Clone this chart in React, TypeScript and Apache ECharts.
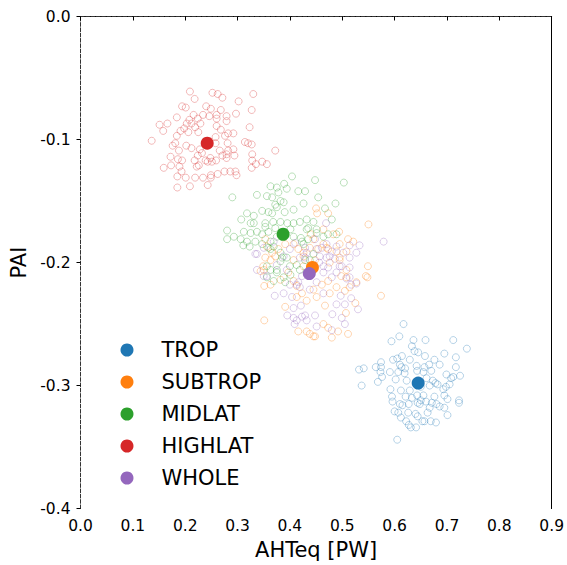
import React, { useEffect, useRef } from "react";
import * as echarts from "echarts";

const regionNames = ["TROP", "SUBTROP", "MIDLAT", "HIGHLAT", "WHOLE"];
const regionColors = ["#1f77b4", "#ff7f0e", "#2ca02c", "#d62728", "#9467bd"];
const regionCloudColors = [
  "rgba(31,119,180,0.4)",
  "rgba(255,127,14,0.4)",
  "rgba(44,160,44,0.4)",
  "rgba(214,39,40,0.4)",
  "rgba(148,103,189,0.4)",
];

const xTicks = [0, 0.1, 0.2, 0.3, 0.4, 0.5, 0.6, 0.7, 0.8, 0.9];
const yTicks = [-0.4, -0.3, -0.2, -0.1, 0.0];

// mean values (AHTeq, PAI)
const tropMean: [number, number] = [0.645, -0.298];
const subtropMean: [number, number] = [0.443, -0.204];
const midlatMean: [number, number] = [0.387, -0.177];
const highlatMean: [number, number] = [0.242, -0.103];
const wholeMean: [number, number] = [0.437, -0.209];

const tropPoints: [number, number][] = [
  [0.617, -0.25], [0.609, -0.26], [0.594, -0.264], [0.636, -0.263], [0.659, -0.263], [0.712, -0.263],
  [0.738, -0.27], [0.633, -0.268], [0.638, -0.272], [0.645, -0.273], [0.614, -0.276], [0.658, -0.276],
  [0.695, -0.274], [0.717, -0.277], [0.597, -0.279], [0.605, -0.278], [0.629, -0.279], [0.676, -0.279],
  [0.532, -0.287], [0.541, -0.286], [0.564, -0.285], [0.574, -0.281], [0.574, -0.285], [0.61, -0.283],
  [0.613, -0.285], [0.62, -0.286], [0.642, -0.284], [0.657, -0.285], [0.666, -0.283], [0.686, -0.283],
  [0.717, -0.285], [0.573, -0.289], [0.591, -0.289], [0.607, -0.289], [0.619, -0.29], [0.643, -0.288],
  [0.655, -0.289], [0.67, -0.288], [0.699, -0.291], [0.708, -0.294], [0.712, -0.293], [0.725, -0.292],
  [0.576, -0.293], [0.568, -0.297], [0.537, -0.3], [0.602, -0.295], [0.623, -0.296], [0.661, -0.294],
  [0.673, -0.296], [0.678, -0.298], [0.682, -0.299], [0.592, -0.303], [0.612, -0.304], [0.629, -0.304],
  [0.65, -0.301], [0.667, -0.3], [0.693, -0.303], [0.698, -0.301], [0.705, -0.299], [0.595, -0.309],
  [0.621, -0.309], [0.633, -0.31], [0.643, -0.308], [0.655, -0.308], [0.676, -0.309], [0.695, -0.308],
  [0.61, -0.315], [0.627, -0.315], [0.644, -0.314], [0.65, -0.312], [0.66, -0.313], [0.671, -0.314],
  [0.68, -0.315], [0.701, -0.311], [0.723, -0.312], [0.723, -0.314], [0.596, -0.313], [0.615, -0.316],
  [0.648, -0.315], [0.667, -0.318], [0.686, -0.317], [0.695, -0.318], [0.6, -0.321], [0.607, -0.322],
  [0.626, -0.322], [0.64, -0.323], [0.663, -0.322], [0.612, -0.326], [0.622, -0.329], [0.644, -0.325],
  [0.653, -0.329], [0.669, -0.329], [0.679, -0.33], [0.627, -0.332], [0.641, -0.334], [0.701, -0.324],
  [0.605, -0.344], [0.631, -0.334], [0.657, -0.329],
];

const subtropPoints: [number, number][] = [
  [0.45, -0.156], [0.452, -0.16], [0.473, -0.16], [0.55, -0.169], [0.464, -0.173], [0.494, -0.175],
  [0.483, -0.177], [0.44, -0.177], [0.511, -0.181], [0.521, -0.183], [0.495, -0.185], [0.454, -0.189],
  [0.489, -0.191], [0.508, -0.191], [0.426, -0.192], [0.47, -0.188],
  [0.349, -0.203], [0.344, -0.207], [0.351, -0.219], [0.363, -0.218], [0.413, -0.228], [0.423, -0.225],
  [0.391, -0.236], [0.351, -0.247], [0.416, -0.256], [0.407, -0.215], [0.372, -0.195], [0.353, -0.196],
  [0.549, -0.203], [0.548, -0.212], [0.508, -0.212], [0.498, -0.211], [0.527, -0.216], [0.473, -0.215],
  [0.461, -0.218], [0.489, -0.22], [0.514, -0.22], [0.505, -0.223], [0.574, -0.227], [0.476, -0.225],
  [0.451, -0.228], [0.432, -0.231], [0.467, -0.235], [0.525, -0.233], [0.507, -0.241], [0.464, -0.25],
  [0.473, -0.253], [0.432, -0.256], [0.448, -0.26], [0.48, -0.261], [0.492, -0.256], [0.495, -0.196],
  [0.445, -0.222], [0.545, -0.211],
  [0.353, -0.181], [0.356, -0.187], [0.366, -0.192], [0.378, -0.189], [0.391, -0.185], [0.407, -0.185],
  [0.416, -0.189], [0.426, -0.195], [0.438, -0.188], [0.445, -0.181], [0.464, -0.185], [0.473, -0.189],
  [0.448, -0.198], [0.426, -0.203], [0.407, -0.198], [0.363, -0.198], [0.35, -0.206], [0.382, -0.214],
  [0.397, -0.208], [0.413, -0.219], [0.476, -0.2], [0.495, -0.198], [0.508, -0.206], [0.438, -0.258],
  [0.445, -0.26], [0.511, -0.258],
];

const midlatPoints: [number, number][] = [
  [0.404, -0.13], [0.363, -0.138], [0.375, -0.139], [0.389, -0.136], [0.394, -0.14], [0.416, -0.142],
  [0.337, -0.145], [0.356, -0.146], [0.29, -0.147], [0.378, -0.143], [0.366, -0.147], [0.382, -0.15],
  [0.372, -0.153], [0.388, -0.151], [0.375, -0.155], [0.318, -0.16], [0.331, -0.162], [0.347, -0.158],
  [0.359, -0.159], [0.366, -0.16], [0.39, -0.159], [0.407, -0.157], [0.307, -0.165], [0.325, -0.168],
  [0.331, -0.168], [0.353, -0.168], [0.368, -0.167], [0.382, -0.167], [0.395, -0.168], [0.407, -0.168],
  [0.419, -0.167], [0.28, -0.174], [0.312, -0.175], [0.325, -0.176], [0.337, -0.175], [0.353, -0.171],
  [0.359, -0.175], [0.372, -0.172], [0.347, -0.177], [0.401, -0.173], [0.293, -0.179], [0.28, -0.181],
  [0.306, -0.181], [0.318, -0.183], [0.334, -0.183], [0.363, -0.183], [0.375, -0.179], [0.407, -0.179],
  [0.421, -0.18], [0.311, -0.186], [0.323, -0.187], [0.347, -0.185], [0.359, -0.188], [0.369, -0.187],
  [0.448, -0.133], [0.503, -0.135], [0.429, -0.142], [0.454, -0.147], [0.487, -0.152], [0.426, -0.152],
  [0.467, -0.156], [0.48, -0.165], [0.432, -0.165], [0.445, -0.167], [0.435, -0.172], [0.451, -0.176],
  [0.473, -0.177], [0.489, -0.177], [0.435, -0.181], [0.426, -0.185],
  [0.356, -0.212], [0.382, -0.199], [0.388, -0.212], [0.391, -0.216], [0.375, -0.208], [0.401, -0.21],
  [0.363, -0.206], [0.385, -0.196], [0.369, -0.215],
  [0.363, -0.189], [0.382, -0.192], [0.394, -0.196], [0.413, -0.202], [0.429, -0.198], [0.4, -0.203],
  [0.375, -0.206], [0.356, -0.203], [0.419, -0.206], [0.438, -0.198], [0.445, -0.193], [0.451, -0.173],
  [0.464, -0.179], [0.432, -0.173], [0.423, -0.183],
];

const highlatPoints: [number, number][] = [
  [0.209, -0.061], [0.252, -0.062], [0.262, -0.063], [0.271, -0.066], [0.218, -0.067], [0.33, -0.063],
  [0.302, -0.069], [0.194, -0.073], [0.201, -0.074], [0.24, -0.073], [0.249, -0.075], [0.327, -0.076],
  [0.268, -0.076], [0.297, -0.079], [0.184, -0.082], [0.216, -0.08], [0.234, -0.08], [0.246, -0.081],
  [0.26, -0.08], [0.279, -0.081], [0.208, -0.084], [0.224, -0.083], [0.229, -0.087], [0.26, -0.083],
  [0.279, -0.085], [0.151, -0.088], [0.166, -0.087], [0.158, -0.093], [0.203, -0.087], [0.212, -0.087],
  [0.198, -0.091], [0.219, -0.09], [0.26, -0.089], [0.268, -0.092], [0.323, -0.09], [0.191, -0.093],
  [0.206, -0.094], [0.225, -0.094], [0.282, -0.095], [0.292, -0.095], [0.276, -0.097], [0.136, -0.101],
  [0.184, -0.097], [0.258, -0.098], [0.181, -0.103], [0.176, -0.105], [0.188, -0.109], [0.202, -0.105],
  [0.212, -0.107], [0.228, -0.108], [0.232, -0.111], [0.224, -0.113], [0.258, -0.103], [0.281, -0.103],
  [0.314, -0.102], [0.32, -0.103], [0.327, -0.104], [0.266, -0.109], [0.282, -0.109], [0.292, -0.108],
  [0.279, -0.112], [0.271, -0.113], [0.172, -0.114], [0.186, -0.116], [0.194, -0.117], [0.218, -0.117],
  [0.239, -0.117], [0.248, -0.115], [0.251, -0.118], [0.259, -0.117], [0.279, -0.115], [0.294, -0.113],
  [0.328, -0.112], [0.372, -0.109], [0.159, -0.123], [0.173, -0.121], [0.189, -0.122], [0.193, -0.126],
  [0.222, -0.122], [0.226, -0.121], [0.243, -0.118], [0.328, -0.117], [0.335, -0.12], [0.347, -0.118],
  [0.356, -0.12], [0.327, -0.123], [0.185, -0.13], [0.201, -0.131], [0.219, -0.131], [0.234, -0.131],
  [0.249, -0.129], [0.262, -0.128], [0.275, -0.126], [0.286, -0.126], [0.296, -0.126], [0.298, -0.129],
  [0.249, -0.131], [0.209, -0.138], [0.185, -0.139], [0.243, -0.137],
];

const wholePoints: [number, number][] = [
  [0.469, -0.168], [0.579, -0.183], [0.533, -0.186], [0.514, -0.186], [0.448, -0.181], [0.48, -0.191],
  [0.461, -0.188], [0.429, -0.188], [0.527, -0.192],
  [0.337, -0.193], [0.35, -0.211], [0.371, -0.227], [0.388, -0.225], [0.404, -0.228], [0.407, -0.237],
  [0.421, -0.235], [0.395, -0.243], [0.407, -0.245], [0.413, -0.247], [0.423, -0.244], [0.409, -0.25],
  [0.419, -0.22], [0.416, -0.216], [0.4, -0.218], [0.337, -0.206],
  [0.429, -0.196], [0.456, -0.2], [0.47, -0.196], [0.486, -0.197], [0.499, -0.203], [0.514, -0.204],
  [0.464, -0.208], [0.489, -0.208], [0.48, -0.212], [0.508, -0.213], [0.451, -0.216], [0.517, -0.218],
  [0.527, -0.217], [0.438, -0.222], [0.464, -0.225], [0.497, -0.227], [0.517, -0.229], [0.489, -0.234],
  [0.505, -0.234], [0.53, -0.238], [0.481, -0.242], [0.499, -0.245], [0.429, -0.243], [0.448, -0.243],
  [0.432, -0.247], [0.451, -0.252], [0.48, -0.255], [0.505, -0.25], [0.514, -0.212], [0.473, -0.204],
  [0.334, -0.193], [0.35, -0.188], [0.369, -0.183], [0.388, -0.195], [0.4, -0.189], [0.41, -0.184],
  [0.419, -0.196], [0.432, -0.192], [0.451, -0.189], [0.457, -0.195], [0.47, -0.185], [0.464, -0.203],
  [0.445, -0.206], [0.423, -0.211], [0.413, -0.218], [0.394, -0.206], [0.375, -0.202], [0.356, -0.211],
  [0.476, -0.195], [0.489, -0.187], [0.502, -0.192], [0.514, -0.196], [0.495, -0.203],
];

const cloudData = [tropPoints, subtropPoints, midlatPoints, highlatPoints, wholePoints];
const meanData = [tropMean, subtropMean, midlatMean, highlatMean, wholeMean];

const FONT = "DejaVu Sans";

export default function App() {
  const ref = useRef<HTMLDivElement>(null);
  useEffect(() => {
    if (!ref.current) return;
    const chart = echarts.init(ref.current, undefined, { renderer: "svg" });
    const cloudSeries = cloudData.map((pts, i) => ({
      name: regionNames[i] + " members",
      type: "scatter",
      xAxisIndex: 0,
      yAxisIndex: 0,
      data: pts,
      symbol: "circle",
      symbolSize: 7,
      silent: true,
      itemStyle: { color: "rgba(255,255,255,0)", borderColor: regionCloudColors[i], borderWidth: 1 },
      z: 2,
    }));
    const meanSeries = meanData.map((m, i) => ({
      name: regionNames[i],
      type: "scatter",
      xAxisIndex: 0,
      yAxisIndex: 0,
      data: [m],
      symbol: "circle",
      symbolSize: 13,
      itemStyle: { color: regionColors[i], opacity: 1 },
      z: 3,
    }));
    const dashed = { color: "#333", width: 1, type: [3.7, 1.6] as any };
    chart.setOption({
      animation: false,
      textStyle: { fontFamily: FONT },
      grid: { left: 80.5, right: 12, top: 16.5, bottom: 55.5, containLabel: false },
      legend: {
        data: regionNames,
        orient: "vertical",
        left: 115.5,
        top: 333,
        icon: "circle",
        itemWidth: 13,
        itemHeight: 13,
        itemGap: 8,
        textStyle: { fontFamily: FONT, fontSize: 21, color: "#000", lineHeight: 24, padding: [0, 0, 0, 23] },
        selectedMode: false,
      },
      xAxis: [
        {
          type: "value",
          min: xTicks[0],
          max: xTicks[xTicks.length - 1],
          interval: 0.1,
          position: "bottom",
          name: "AHTeq [PW]",
          nameLocation: "middle",
          nameGap: 27,
          nameTextStyle: { fontFamily: FONT, fontSize: 21, color: "#000" },
          axisLine: { show: true, lineStyle: { color: "#000", width: 1 } },
          axisTick: { show: true, inside: false, length: 4, lineStyle: { color: "#000" } },
          axisLabel: {
            fontFamily: FONT,
            fontSize: 15.5,
            color: "#000",
            margin: 9.5,
            formatter: (v: number) => v.toFixed(1),
          },
          splitLine: { show: false },
        },
        {
          type: "value",
          min: xTicks[0],
          max: xTicks[xTicks.length - 1],
          position: "top",
          axisLine: { show: true, lineStyle: dashed },
          axisTick: { show: false },
          axisLabel: { show: false },
          splitLine: { show: false },
        },
      ],
      yAxis: [
        {
          type: "value",
          min: yTicks[0],
          max: yTicks[yTicks.length - 1],
          interval: 0.1,
          position: "left",
          name: "PAI",
          nameLocation: "middle",
          nameGap: 50,
          nameTextStyle: { fontFamily: FONT, fontSize: 21, color: "#000" },
          axisLine: { show: true, onZero: false, lineStyle: dashed },
          axisTick: { show: true, inside: false, length: 4, lineStyle: { color: "#000" } },
          axisLabel: {
            fontFamily: FONT,
            fontSize: 15.5,
            color: "#000",
            margin: 10,
            formatter: (v: number) => v.toFixed(1),
          },
          splitLine: { show: false },
        },
        {
          type: "value",
          min: yTicks[0],
          max: yTicks[yTicks.length - 1],
          position: "right",
          axisLine: { show: true, onZero: false, lineStyle: { color: "#000", width: 1 } },
          axisTick: { show: false },
          axisLabel: { show: false },
          splitLine: { show: false },
        },
      ],
      series: [...cloudSeries, ...meanSeries],
    });
    return () => chart.dispose();
  }, []);
  return <div ref={ref} style={{ width: 567, height: 565, position: "absolute", left: 0, top: 0 }} />;
}
